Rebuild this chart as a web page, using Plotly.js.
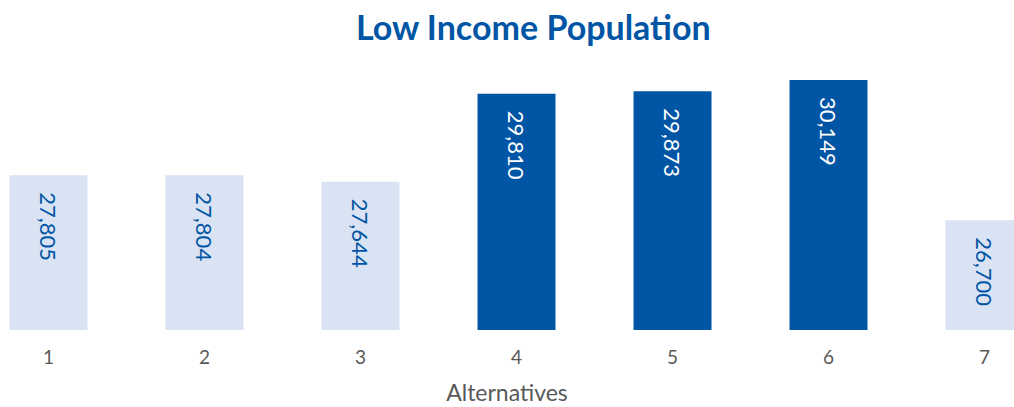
<!DOCTYPE html>
<html>
<head>
<meta charset="utf-8">
<script src="https://cdn.plot.ly/plotly-3.0.1.min.js"></script>
<style>html,body{margin:0;padding:0;background:#fff;}#chart{width:1014px;height:407px;}</style>
</head>
<body>
<div id="chart"></div>
<script>
const categories = ['1', '2', '3', '4', '5', '6', '7'];
const values = [27805, 27804, 27644, 29810, 29873, 30149, 26700];
const highlighted = [false, false, false, true, true, true, false];

const LIGHT = '#dae3f3';
const DARK = '#0055a5';
const FONT = 'Lato, "Open Sans", sans-serif';
const fmt = v => v.toLocaleString('en-US');

const trace = {
  type: 'bar',
  x: categories,
  y: values,
  width: 0.5,
  marker: { color: highlighted.map(h => h ? DARK : LIGHT) },
  hoverinfo: 'x+y'
};

const labels = categories.map((c, i) => ({
  x: i,
  y: values[i],
  xref: 'x',
  yref: 'y',
  text: fmt(values[i]),
  textangle: 90,
  showarrow: false,
  xanchor: 'center',
  yanchor: 'top',
  yshift: -15,
  font: { family: FONT, size: 22, color: highlighted[i] ? '#ffffff' : DARK }
}));

const layout = {
  width: 1014,
  height: 407,
  margin: { l: 0, r: 0, t: 77, b: 77 },
  paper_bgcolor: '#ffffff',
  plot_bgcolor: '#ffffff',
  title: {
    text: '<b>Low Income Population</b>',
    font: { family: FONT, size: 34, color: DARK },
    x: 0.526, xanchor: 'center', y: 0.931, yanchor: 'middle'
  },
  xaxis: {
    type: 'category',
    range: [-0.311, 6.189],
    showgrid: false, zeroline: false, showline: false,
    ticks: 'outside', ticklen: 10, tickcolor: 'rgba(0,0,0,0)',
    tickfont: { family: FONT, size: 19, color: '#595959' },
    automargin: false,
    title: { text: 'Alternatives', font: { family: FONT, size: 23, color: '#595959' }, standoff: 18 }
  },
  yaxis: {
    range: [24000, 30224],
    visible: false,
    showgrid: false, zeroline: false
  },
  annotations: labels,
  showlegend: false
};

Plotly.newPlot('chart', [trace], layout, { displayModeBar: false, staticPlot: true });
</script>
</body>
</html>
